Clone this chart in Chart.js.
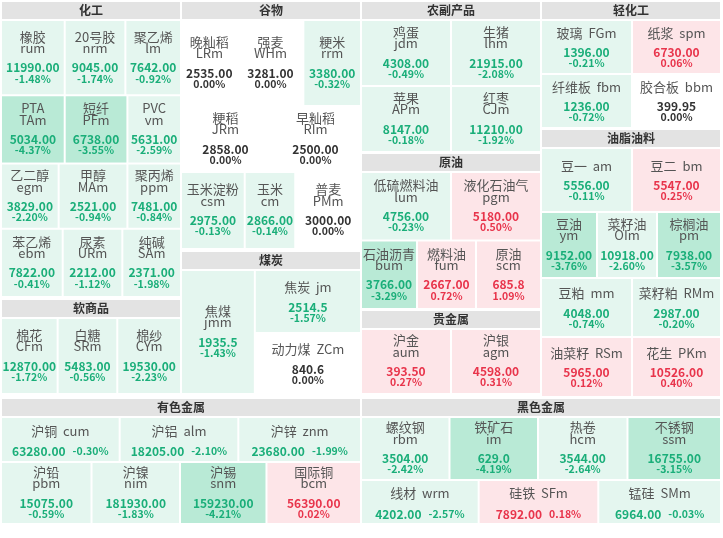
<!DOCTYPE html>
<html>
<head>
<meta charset="utf-8">
<script src="https://cdn.jsdelivr.net/npm/chart.js@4.4.0/dist/chart.umd.min.js"></script>
<style>
  body { margin: 0; background: #fff; }
  canvas { display: block; }
</style>
</head>
<body>
<canvas id="board" width="723" height="538"></canvas>
<script>
// Sectors
const sectors = ["化工", "软商品", "谷物", "煤炭", "农副产品", "原油", "贵金属", "轻化工", "油脂油料", "有色金属", "黑色金属"];

// Contracts (sector index, name, code, price, change %)
const sectorOf = [
  0, 0, 0, 0, 0, 0, 0, 0, 0, 0, 0, 0,
  1, 1, 1,
  2, 2, 2, 2, 2, 2, 2, 2,
  3, 3, 3,
  4, 4, 4, 4,
  5, 5, 5, 5, 5,
  6, 6,
  7, 7, 7, 7,
  8, 8, 8, 8, 8, 8, 8, 8, 8,
  9, 9, 9, 9, 9, 9, 9,
  10, 10, 10, 10, 10, 10, 10
];
const names = [
  "橡胶", "20号胶", "聚乙烯", "PTA", "短纤", "PVC", "乙二醇", "甲醇", "聚丙烯", "苯乙烯", "尿素", "纯碱",
  "棉花", "白糖", "棉纱",
  "晚籼稻", "强麦", "粳米", "粳稻", "早籼稻", "玉米淀粉", "玉米", "普麦",
  "焦煤", "焦炭", "动力煤",
  "鸡蛋", "生猪", "苹果", "红枣",
  "低硫燃料油", "液化石油气", "石油沥青", "燃料油", "原油",
  "沪金", "沪银",
  "玻璃", "纸浆", "纤维板", "胶合板",
  "豆一", "豆二", "豆油", "菜籽油", "棕榈油", "豆粕", "菜籽粕", "油菜籽", "花生",
  "沪铜", "沪铝", "沪锌", "沪铅", "沪镍", "沪锡", "国际铜",
  "螺纹钢", "铁矿石", "热卷", "不锈钢", "线材", "硅铁", "锰硅"
];
const codes = [
  "rum", "nrm", "lm", "TAm", "PFm", "vm", "egm", "MAm", "ppm", "ebm", "URm", "SAm",
  "CFm", "SRm", "CYm",
  "LRm", "WHm", "rrm", "JRm", "RIm", "csm", "cm", "PMm",
  "jmm", "jm", "ZCm",
  "jdm", "lhm", "APm", "CJm",
  "lum", "pgm", "bum", "fum", "scm",
  "aum", "agm",
  "FGm", "spm", "fbm", "bbm",
  "am", "bm", "ym", "OIm", "pm", "mm", "RMm", "RSm", "PKm",
  "cum", "alm", "znm", "pbm", "nim", "snm", "bcm",
  "rbm", "im", "hcm", "ssm", "wrm", "SFm", "SMm"
];
const prices = [
  11990, 9045, 7642, 5034, 6738, 5631, 3829, 2521, 7481, 7822, 2212, 2371,
  12870, 5483, 19530,
  2535, 3281, 3380, 2858, 2500, 2975, 2866, 3000,
  1935.5, 2514.5, 840.6,
  4308, 21915, 8147, 11210,
  4756, 5180, 3766, 2667, 685.8,
  393.5, 4598,
  1396, 6730, 1236, 399.95,
  5556, 5547, 9152, 10918, 7938, 4048, 2987, 5965, 10526,
  63280, 18205, 23680, 15075, 181930, 159230, 56390,
  3504, 629.0, 3544, 16755, 4202, 7892, 6964
];
const changes = [
  -1.48, -1.74, -0.92, -4.37, -3.55, -2.59, -2.20, -0.94, -0.84, -0.41, -1.12, -1.98,
  -1.72, -0.56, -2.23,
  0.00, 0.00, -0.32, 0.00, 0.00, -0.13, -0.14, 0.00,
  -1.43, -1.57, 0.00,
  -0.49, -2.08, -0.18, -1.92,
  -0.23, 0.50, -3.29, 0.72, 1.09,
  0.27, 0.31,
  -0.21, 0.06, -0.72, 0.00,
  -0.11, 0.25, -3.76, -2.60, -3.57, -0.74, -0.20, 0.12, 0.40,
  -0.30, -2.10, -1.99, -0.59, -1.83, -4.21, 0.02,
  -2.42, -4.19, -2.64, -3.15, -2.57, 0.18, -0.03
];
// contracts quoted with one decimal
const oneDecimal = ["jmm", "jm", "ZCm", "scm", "im"];

// Block layout in a 723 x 538 value space: frame [x0, x1, y0, y1], row/col weights
const blocks = [
  { sector: 0, frame: [1, 181, 1, 297], rows: [[75, [63, 60, 55]], [68, [63, 62, 53]], [65, [57, 68, 53]], [68, [61, 59, 58]]] },
  { sector: 1, frame: [1, 181, 299, 394], rows: [[1, [56, 59, 63]]] },
  { sector: 2, frame: [181, 361, 1, 249], rows: [[86, [56, 65, 57]], [66, [88, 90]], [77, [63, 50, 65]]] },
  { sector: 3, frame: [181, 361, 251, 394], cols: [[73, [1]], [105, [63, 61]]], modes: ["s2", "s1", "s1"] },
  { sector: 4, frame: [361, 541, 1, 152], rows: [[66, [90, 90]], [66, [90, 90]]] },
  { sector: 5, frame: [361, 541, 153, 309], rows: [[68, [90, 90]], [68, [56, 59, 65]]] },
  { sector: 6, frame: [361, 541, 310, 394], rows: [[1, [90, 90]]] },
  { sector: 7, frame: [541, 721, 1, 128], rows: [[54, [90, 88]], [54, [90, 88]]], modes: ["s1", "s1", "s1", "s1"] },
  { sector: 8, frame: [541, 721, 129, 397], rows: [[64, [90, 88]], [66, [56, 60, 64]], [59, [90, 88]], [60, [90, 88]]],
    modes: ["s1", "s1", "s2", "s2", "s2", "s1", "s1", "s1", "s1"] },
  { sector: 9, frame: [1, 361, 398, 524], rows: [[45, [118, 118, 122]], [62, [90, 88, 86, 94]]],
    modes: ["in", "in", "in", "s2", "s2", "s2", "s2"] },
  { sector: 10, frame: [361, 721, 398, 524], rows: [[63, [88, 88, 89, 93]], [44, [117, 119, 122]]],
    modes: ["s2", "s2", "s2", "s2", "in", "in", "in"] }
];

const HEADER = 19;
const FONT = '"Microsoft YaHei", "Noto Sans CJK SC", sans-serif';
const PRICE_FONT = "bold 12px " + FONT;
const PCT_FONT = "bold 10.5px " + FONT;
const NAME_FONT = "13px " + FONT;

function fillColor(c) {
  if (c <= -3) return "#b9ead6";
  if (c < 0) return "#e4f6ef";
  if (c > 0) return "#fde5e8";
  return "#ffffff";
}
function textColor(c) {
  if (c < 0) return "#1aae79";
  if (c > 0) return "#e8344b";
  return "#333333";
}
function fmtPrice(i) {
  return prices[i].toFixed(oneDecimal.includes(codes[i]) ? 1 : 2);
}
function fmtChange(i) {
  return changes[i].toFixed(2) + "%";
}

// split a block into cell rectangles (value space)
function cellRects(b) {
  const [x0, x1, y0, y1] = b.frame;
  const top = y0 + HEADER;
  const rects = [];
  if (b.rows) {
    const tot = b.rows.reduce((s, r) => s + r[0], 0);
    let y = top;
    b.rows.forEach(([h, ws]) => {
      const rh = (y1 - top) * h / tot;
      const wt = ws.reduce((s, w) => s + w, 0);
      let x = x0;
      ws.forEach(w => {
        const cw = (x1 - x0) * w / wt;
        rects.push([x, x + cw, y, y + rh]);
        x += cw;
      });
      y += rh;
    });
  } else {
    const tot = b.cols.reduce((s, c) => s + c[0], 0);
    let x = x0;
    b.cols.forEach(([w, hs]) => {
      const cw = (x1 - x0) * w / tot;
      const ht = hs.reduce((s, h) => s + h, 0);
      let y = top;
      hs.forEach(h => {
        const ch = (y1 - top) * h / ht;
        rects.push([x, x + cw, y, y + ch]);
        y += ch;
      });
      x += cw;
    });
  }
  return rects;
}

const boardPlugin = {
  id: "board",
  afterDraw(chart) {
    const ctx = chart.ctx;
    const sx = chart.scales.x, sy = chart.scales.y;
    const px = v => sx.getPixelForValue(v);
    const py = v => sy.getPixelForValue(v);
    ctx.save();
    ctx.textBaseline = "middle";

    blocks.forEach(b => {
      const [x0, x1, y0] = b.frame;
      // header
      ctx.fillStyle = "#e3e3e3";
      ctx.fillRect(px(x0) + 1, py(y0) + 1, px(x1) - px(x0) - 2, py(y0 + HEADER) - py(y0) - 2);
      ctx.fillStyle = "#333";
      ctx.textAlign = "center";
      ctx.font = "bold 12px " + FONT;
      ctx.fillText(sectors[b.sector], (px(x0) + px(x1)) / 2, py(y0 + HEADER / 2) - 0.5);

      const items = [];
      sectorOf.forEach((s, i) => { if (s === b.sector) items.push(i); });
      const rects = cellRects(b);

      items.forEach((i, k) => {
        const r = rects[k];
        const left = px(r[0]) + 1, right = px(r[1]) - 1;
        const topY = py(r[2]) + 1, bot = py(r[3]) - 1;
        ctx.fillStyle = fillColor(changes[i]);
        ctx.fillRect(left, topY, right - left, bot - topY);

        const cx = (left + right) / 2, cy = (topY + bot) / 2;
        const mode = (b.modes && b.modes[k]) || "s2";
        const col = textColor(changes[i]);
        ctx.textAlign = "center";

        if (mode === "s2") {
          ctx.fillStyle = "#555";
          ctx.font = NAME_FONT;
          ctx.fillText(names[i], cx, cy - 21);
          ctx.fillText(codes[i], cx, cy - 9.5);
          ctx.fillStyle = col;
          ctx.font = PRICE_FONT;
          ctx.fillText(fmtPrice(i), cx, cy + 10);
          ctx.font = PCT_FONT;
          ctx.fillText(fmtChange(i), cx, cy + 21);
        } else if (mode === "s1") {
          ctx.fillStyle = "#555";
          ctx.font = NAME_FONT;
          ctx.fillText(names[i] + "  " + codes[i], cx, cy - 14);
          ctx.fillStyle = col;
          ctx.font = PRICE_FONT;
          ctx.fillText(fmtPrice(i), cx, cy + 5.5);
          ctx.font = PCT_FONT;
          ctx.fillText(fmtChange(i), cx, cy + 16.5);
        } else {
          ctx.fillStyle = "#555";
          ctx.font = NAME_FONT;
          ctx.fillText(names[i] + "  " + codes[i], cx, cy - 8.5);
          ctx.font = PRICE_FONT;
          const pw = ctx.measureText(fmtPrice(i)).width;
          ctx.font = PCT_FONT;
          const cw = ctx.measureText(fmtChange(i)).width;
          const gap = 7;
          const x = cx - (pw + gap + cw) / 2;
          ctx.textAlign = "left";
          ctx.fillStyle = col;
          ctx.font = PRICE_FONT;
          ctx.fillText(fmtPrice(i), x, cy + 12);
          ctx.font = PCT_FONT;
          ctx.fillText(fmtChange(i), x + pw + gap, cy + 12);
        }
      });
    });
    ctx.restore();
  }
};

new Chart(document.getElementById("board"), {
  type: "scatter",
  data: { datasets: [] },
  options: {
    responsive: false,
    animation: false,
    layout: { padding: 0 },
    plugins: { legend: { display: false }, tooltip: { enabled: false } },
    scales: {
      x: { type: "linear", min: 0, max: 723, display: false },
      y: { type: "linear", min: 0, max: 538, reverse: true, display: false }
    }
  },
  plugins: [boardPlugin]
});
</script>
</body>
</html>
